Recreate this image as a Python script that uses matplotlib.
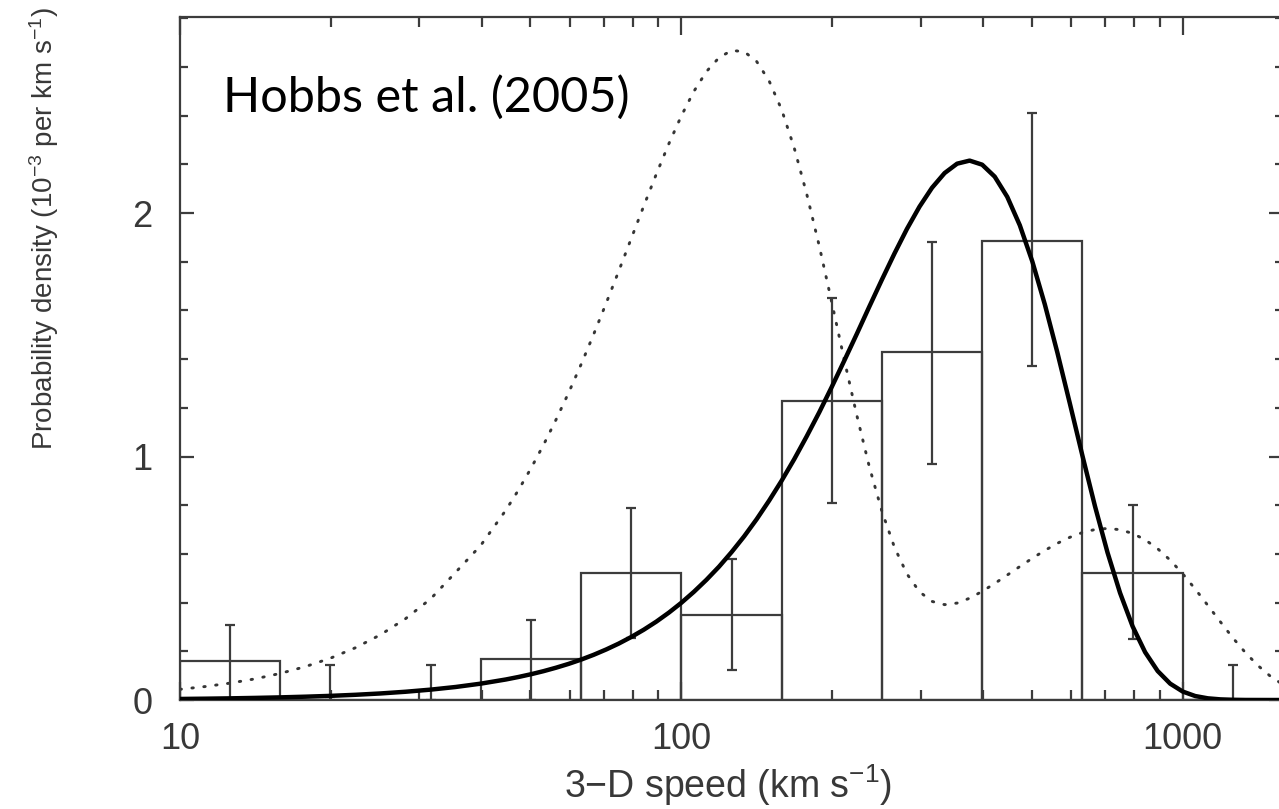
import numpy as np
import matplotlib
matplotlib.use("Agg")
import matplotlib.pyplot as plt
from matplotlib.ticker import LogLocator, NullFormatter, FixedLocator, MultipleLocator

# Histogram bins (log-spaced, 0.2 dex wide) in km/s
bin_edges = [10.0, 15.85, 25.12, 39.81, 63.10, 100.0, 158.5, 251.2, 398.1, 631.0, 1000.0, 1585.0]
bin_heights = [0.16, 0.0, 0.0, 0.17, 0.52, 0.35, 1.23, 1.43, 1.885, 0.52, 0.0]
err_low = [0.16, 0.0, 0.0, 0.17, 0.265, 0.225, 0.42, 0.46, 0.515, 0.27, 0.0]
err_high = [0.15, 0.145, 0.145, 0.16, 0.27, 0.228, 0.42, 0.45, 0.525, 0.28, 0.145]

# Model curves, density in units of 1e-3 per km/s
curve_speed = [10.0, 11.22, 12.59, 14.13, 15.85, 17.78, 19.95, 22.39, 25.12, 28.18,
               31.62, 35.48, 39.81, 44.67, 47.32, 50.12, 53.09, 56.23, 59.57, 63.10,
               66.83, 70.79, 74.99, 79.43, 84.14, 89.13, 94.41, 100.0, 105.9, 112.2,
               118.9, 125.9, 133.4, 141.3, 149.6, 158.5, 167.9, 177.8, 188.4, 199.5,
               211.3, 223.9, 237.1, 251.2, 266.1, 281.8, 298.5, 316.2, 335.0, 354.8,
               375.8, 398.1, 421.7, 446.7, 473.2, 501.2, 530.9, 562.3, 595.7, 631.0,
               668.3, 707.9, 749.9, 794.3, 841.4, 891.3, 944.1, 1000.0, 1059.0, 1122.0,
               1189.0, 1259.0, 1334.0, 1413.0, 1496.0, 1585.0]
maxwell_fit = [0.0043, 0.0054, 0.0068, 0.0086, 0.0108, 0.0136, 0.0170, 0.0214, 0.0269, 0.0339,
               0.0426, 0.0535, 0.0672, 0.0843, 0.0945, 0.1058, 0.1184, 0.1326, 0.1483, 0.1659,
               0.1855, 0.2074, 0.2316, 0.2587, 0.2886, 0.3218, 0.3587, 0.3993, 0.4441, 0.4935,
               0.5477, 0.6070, 0.6718, 0.7423, 0.8184, 0.9007, 0.9887, 1.0825, 1.1817, 1.2856,
               1.3934, 1.5039, 1.6156, 1.7263, 1.8336, 1.9346, 2.0259, 2.1037, 2.1640, 2.2026,
               2.2152, 2.1985, 2.1494, 2.0665, 1.9498, 1.8011, 1.6243, 1.4270, 1.2166, 1.0028,
               0.7962, 0.6059, 0.4399, 0.3028, 0.1964, 0.1191, 0.0671, 0.0347, 0.0163, 0.0069,
               0.0026, 0.0009, 0.0002, 0.0001, 0.0, 0.0]
two_component = [0.0439, 0.0552, 0.0693, 0.0870, 0.1092, 0.1370, 0.1716, 0.2147, 0.2681, 0.3341,
                 0.4154, 0.5248, 0.6353, 0.7798, 0.8622, 0.9513, 1.0475, 1.1510, 1.2613, 1.3783,
                 1.5013, 1.6293, 1.7610, 1.8951, 2.0287, 2.1596, 2.2843, 2.3990, 2.4994, 2.5809,
                 2.6383, 2.6674, 2.6631, 2.6225, 2.5431, 2.4244, 2.2680, 2.0792, 1.8646, 1.6336,
                 1.3976, 1.1684, 0.9579, 0.7751, 0.6273, 0.5178, 0.4446, 0.4049, 0.3916, 0.3981,
                 0.4180, 0.4461, 0.4786, 0.5131, 0.5481, 0.5821, 0.6143, 0.6435, 0.6683, 0.6877,
                 0.7002, 0.7045, 0.6995, 0.6841, 0.6581, 0.6213, 0.5743, 0.5183, 0.4557, 0.3888,
                 0.3209, 0.2551, 0.1943, 0.1413, 0.0975, 0.0633]

y_ticks = [0, 1, 2]
x_ticks = [10, 100, 1000]

plt.rcParams['font.family'] = ['Liberation Sans', 'DejaVu Sans']
plt.rcParams['mathtext.fontset'] = 'custom'
plt.rcParams['mathtext.rm'] = 'Liberation Sans'
plt.rcParams['mathtext.it'] = 'Liberation Sans:italic'
plt.rcParams['mathtext.bf'] = 'Liberation Sans:bold'

W, H = 1279, 809
fig = plt.figure(figsize=(W / 100, H / 100), dpi=100)
ax_left, ax_bottom, ax_top = 180, 700, 17
ax_w = 1103
ax = fig.add_axes([ax_left / W, (H - ax_bottom) / H, ax_w / W, (ax_bottom - ax_top) / H])

frame_col = '#3c3c3c'
text_col = '#383838'
edges = np.array(bin_edges)
lefts = edges[:-1]
widths = np.diff(edges)
centers = np.sqrt(edges[:-1] * edges[1:])

ax.bar(lefts, bin_heights, width=widths, align='edge', fill=False,
       edgecolor=frame_col, linewidth=1.6, zorder=2)
ax.errorbar(centers, bin_heights, yerr=[err_low, err_high], fmt='none',
            ecolor=frame_col, elinewidth=1.6, capsize=3.3, capthick=1.6, zorder=3)
ax.plot(curve_speed, two_component, color='#353535', linewidth=2.1,
        linestyle=(0, (0.5, 3.6)), dash_capstyle='round', zorder=2)
ax.plot(curve_speed, maxwell_fit, color='black', linewidth=3.2, zorder=4,
        solid_joinstyle='round')

ax.set_xscale('log')
ax.set_xlim(10, 1585)
ax.set_ylim(0, 2.805)

ax.xaxis.set_major_locator(FixedLocator(x_ticks))
ax.xaxis.set_minor_locator(LogLocator(base=10, subs=np.arange(2, 10)))
ax.xaxis.set_minor_formatter(NullFormatter())
ax.set_xticklabels([str(v) for v in x_ticks])
ax.yaxis.set_major_locator(FixedLocator(y_ticks))
ax.yaxis.set_minor_locator(MultipleLocator(0.2))
ax.set_yticklabels([str(v) for v in y_ticks])

for sp in ax.spines.values():
    sp.set_color(frame_col)
    sp.set_linewidth(1.6)
ax.tick_params(which='both', direction='in', top=True, right=True,
               color=frame_col, width=1.6, labelcolor=text_col, labelsize=26)
ax.tick_params(axis='x', which='major', length=13, pad=16)
ax.tick_params(axis='x', which='minor', length=7)
ax.tick_params(axis='y', which='major', length=10, pad=20)
ax.tick_params(axis='y', which='minor', length=6)

fig.text(728 / W, 1 - 798 / H, '3\u2212D speed (km s$^{-1}$)', ha='center', va='baseline',
         fontsize=27, color=text_col)
fig.text(44 / W, 1 - 228 / H, 'Probability density (10$^{-3}$ per km s$^{-1}$)',
         rotation=90, ha='center', va='center', fontsize=20, color=text_col)
fig.text(223 / W, 1 - 112 / H, 'Hobbs et al. (2005)', ha='left', va='baseline',
         fontsize=35, family=['Lato', 'DejaVu Sans'], color='black')

fig.savefig('out.png', dpi=100, facecolor='white')
